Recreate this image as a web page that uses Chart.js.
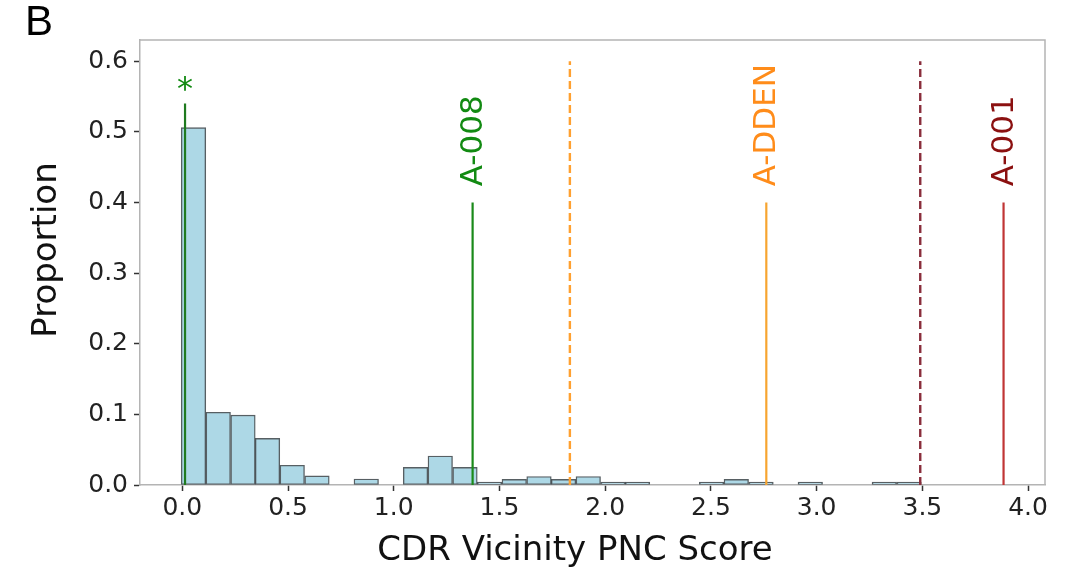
<!DOCTYPE html>
<html>
<head>
<meta charset="utf-8">
<script src="https://cdn.jsdelivr.net/npm/chart.js@4/dist/chart.umd.min.js"></script>
<style>
  html, body { margin: 0; padding: 0; background: #ffffff; }
  #wrap { width: 1080px; height: 583px; position: relative; }
</style>
</head>
<body>
<div id="wrap"><canvas id="c" width="1080" height="583"></canvas></div>
<script>
// ---- Data ----
const binCenters = [0.053, 0.170, 0.287, 0.403, 0.520, 0.637, 0.753, 0.870, 0.987, 1.103,
                    1.220, 1.337, 1.453, 1.570, 1.687, 1.803, 1.920, 2.037, 2.153, 2.270,
                    2.387, 2.503, 2.620, 2.737, 2.853, 2.970, 3.087, 3.203, 3.320, 3.437];
const proportions = [0.506, 0.103, 0.099, 0.066, 0.028, 0.013, null, 0.0085, null, 0.025,
                     0.041, 0.025, 0.004, 0.008, 0.012, 0.008, 0.012, 0.004, 0.004, null,
                     null, 0.004, 0.008, 0.004, null, 0.004, null, null, 0.004, 0.004];
const xTicks = [0.0, 0.5, 1.0, 1.5, 2.0, 2.5, 3.0, 3.5, 4.0];
const yTicks = [0.0, 0.1, 0.2, 0.3, 0.4, 0.5, 0.6];
const xTitle = 'CDR Vicinity PNC Score';
const yTitle = 'Proportion';

const markerNames = ['A-008', 'A-DDEN', 'A-001'];
const markerX = [1.373, 2.762, 3.884];
const markerTop = 0.4;
const markerLineColors = ['#1a8a1a', '#f7a530', '#c03535'];
const markerTextColors = ['#128a12', '#ff8c1a', '#8b1010'];

const refX = [1.833, 3.49];
const refTop = 0.6;
const refColors = ['#ffa030', '#8a2e3c'];

const starX = 0.013;
const starTop = 0.54;
const starLabel = '*';

// ---- Datasets ----
const datasets = [{
  type: 'bar',
  label: 'Proportion',
  data: binCenters.map((x, i) => ({ x: x, y: proportions[i] })),
  backgroundColor: '#add8e6',
  borderColor: 'rgba(45,55,60,0.8)',
  borderWidth: 1.4,
  borderSkipped: false,
  barPercentage: 1.0,
  categoryPercentage: 1.0,
  order: 3
}];

datasets.push({
  type: 'line', label: 'star',
  data: [{ x: starX, y: 0 }, { x: starX, y: starTop }],
  borderColor: '#1f7a1f', borderWidth: 2.2, pointRadius: 0, order: 1
});
markerX.forEach((x, i) => {
  datasets.push({
    type: 'line', label: markerNames[i],
    data: [{ x: x, y: 0 }, { x: x, y: markerTop }],
    borderColor: markerLineColors[i], borderWidth: 2.2, pointRadius: 0, order: 1
  });
});
refX.forEach((x, i) => {
  datasets.push({
    type: 'line', label: 'ref' + i,
    data: [{ x: x, y: 0 }, { x: x, y: refTop }],
    borderColor: refColors[i], borderWidth: 2.4, borderDash: [8, 4], pointRadius: 0, order: 1
  });
});

const FONT = "'DejaVu Sans', Verdana, sans-serif";

const decor = {
  id: 'decor',
  afterDatasetsDraw(chart) {
    const { ctx, chartArea, scales } = chart;
    const xs = scales.x, ys = scales.y;
    ctx.save();
    // top and right spines
    ctx.strokeStyle = '#b4b4b4';
    ctx.lineWidth = 1.5;
    ctx.beginPath();
    ctx.moveTo(chartArea.left, chartArea.top);
    ctx.lineTo(chartArea.right, chartArea.top);
    ctx.lineTo(chartArea.right, chartArea.bottom);
    ctx.stroke();

    // star label
    ctx.fillStyle = '#128a12';
    ctx.font = '32px ' + FONT;
    ctx.textAlign = 'center';
    ctx.textBaseline = 'middle';
    ctx.fillText(starLabel, xs.getPixelForValue(starX), ys.getPixelForValue(0.566) + 5);

    // rotated marker labels
    ctx.font = '31px ' + FONT;
    markerX.forEach((x, i) => {
      const px = xs.getPixelForValue(x) + 1;
      const py = ys.getPixelForValue(markerTop + 0.023);
      ctx.save();
      ctx.translate(px, py);
      ctx.rotate(-Math.PI / 2);
      ctx.fillStyle = markerTextColors[i];
      ctx.textAlign = 'left';
      ctx.textBaseline = 'middle';
      ctx.fillText(markerNames[i], 0, 0);
      ctx.restore();
    });

    // axis titles
    ctx.fillStyle = '#111';
    ctx.font = '34px ' + FONT;
    ctx.textAlign = 'center';
    ctx.textBaseline = 'alphabetic';
    ctx.fillText(xTitle, 575, 560);
    ctx.save();
    ctx.translate(56, 250);
    ctx.rotate(-Math.PI / 2);
    ctx.fillText(yTitle, 0, 0);
    ctx.restore();

    // panel letter
    ctx.fillStyle = '#000';
    ctx.font = "42px 'Liberation Sans', Arial, sans-serif";
    ctx.textAlign = 'left';
    ctx.textBaseline = 'alphabetic';
    ctx.fillText('B', 25, 35);
    ctx.restore();
  }
};

new Chart(document.getElementById('c'), {
  type: 'bar',
  data: { datasets: datasets },
  options: {
    responsive: false,
    animation: false,
    layout: { padding: { top: 40, right: 35, bottom: 12, left: 24 } },
    plugins: { legend: { display: false }, tooltip: { enabled: false } },
    scales: {
      x: {
        type: 'linear',
        min: -0.2,
        max: 4.08,
        offset: false,
        afterFit(s) { s.height = 86; },
        afterBuildTicks(s) { s.ticks = xTicks.map(v => ({ value: v })); },
        ticks: {
          autoSkip: false, maxRotation: 0, padding: 2,
          color: '#222', font: { family: FONT, size: 25 },
          callback: v => Number(v).toFixed(1)
        },
        grid: { display: true, offset: false, drawOnChartArea: false, drawTicks: true, tickLength: 6, tickColor: '#333', tickWidth: 1.5 },
        border: { display: true, color: '#b4b4b4', width: 1.5 },
        title: { display: false }
      },
      y: {
        type: 'linear',
        min: 0,
        max: 0.63,
        afterFit(s) { s.width = 116; },
        afterBuildTicks(s) { s.ticks = yTicks.map(v => ({ value: v })); },
        ticks: {
          autoSkip: false, padding: 6,
          color: '#222', font: { family: FONT, size: 25 },
          callback: v => Number(v).toFixed(1)
        },
        grid: { display: true, offset: false, drawOnChartArea: false, drawTicks: true, tickLength: 6, tickColor: '#333', tickWidth: 1.5 },
        border: { display: true, color: '#b4b4b4', width: 1.5 },
        title: { display: false }
      }
    }
  },
  plugins: [decor]
});
</script>
</body>
</html>
